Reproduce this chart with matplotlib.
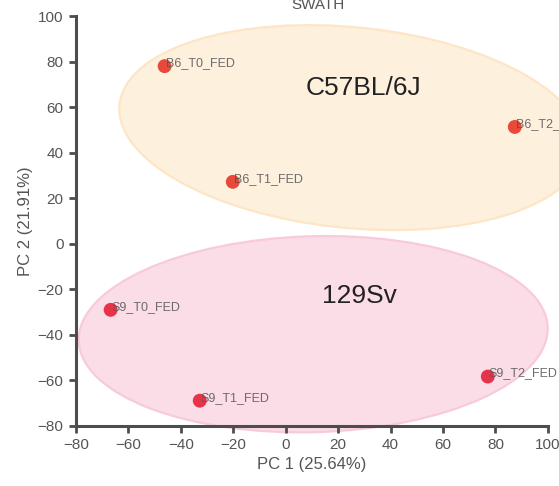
import matplotlib
matplotlib.use("Agg")
import matplotlib.pyplot as plt
from matplotlib.patches import Ellipse

plt.rcParams['font.family'] = ['Liberation Sans', 'DejaVu Sans']

# PCA scores
samples = ["B6_T0_FED", "B6_T1_FED", "B6_T2_FED",
           "S9_T0_FED", "S9_T1_FED", "S9_T2_FED"]
pc1 = [-46.2, -20.2, 87.4, -66.8, -32.8, 77.1]
pc2 = [78.0, 27.2, 51.3, -29.0, -68.9, -58.3]
point_colors = ["#e8493b", "#e8493b", "#e8493b", "#e6334a", "#e6334a", "#e6334a"]

# strain groups: label, centre, width, height, angle, label position
groups = ["C57BL/6J", "129Sv"]
group_centres = [(25, 51), (10.5, -39.7)]
group_widths = [178, 179]
group_heights = [88, 86]
group_angles = [-7, 2]
group_label_pos = [(29.8, 68.4), (28, -22.8)]
group_fill = ["#fdf0dd", "#fbdde8"]
group_edge = ["#fde6c6", "#f8cadb"]

xticks = list(range(-80, 101, 20))
yticks = list(range(-80, 101, 20))

fig = plt.figure(figsize=(5.59, 4.86), dpi=100)
ax = fig.add_axes([0.136, 0.1235, 0.844, 0.8435])

for i, g in enumerate(groups):
    e = Ellipse(group_centres[i], group_widths[i], group_heights[i],
                angle=group_angles[i], facecolor=group_fill[i],
                edgecolor=group_edge[i], linewidth=1.6, zorder=1, clip_on=False)
    ax.add_patch(e)
    ax.text(group_label_pos[i][0], group_label_pos[i][1], g, fontsize=19,
            color="#222222", ha="center", va="center", zorder=2)

ax.scatter(pc1, pc2, s=100, c=point_colors, linewidths=0, zorder=3, clip_on=False)
for x, y, name in zip(pc1, pc2, samples):
    ax.text(x + 0.4, y, name, fontsize=9, color="#555555", alpha=0.85,
            ha="left", va="baseline", zorder=4, clip_on=False)

ax.set_xlim(-80, 100)
ax.set_ylim(-80, 100)
ax.set_xticks(xticks)
ax.set_yticks(yticks)

for side in ["top", "right"]:
    ax.spines[side].set_visible(False)
for side in ["left", "bottom"]:
    ax.spines[side].set_linewidth(2.2)
    ax.spines[side].set_color("#4d4d4d")
ax.tick_params(direction="out", length=5, width=2, color="#4d4d4d",
               labelsize=11, labelcolor="#555555", pad=4)

ax.set_xlabel("PC 1 (25.64%)", fontsize=12, color="#555555", labelpad=3)
ax.set_ylabel("PC 2 (21.91%)", fontsize=12, color="#555555", labelpad=3)

fig.text(318 / 559, 1 - 9 / 486, "SWATH", fontsize=11, color="#555555",
         ha="center", va="baseline")

fig.savefig("out.png", dpi=100)
